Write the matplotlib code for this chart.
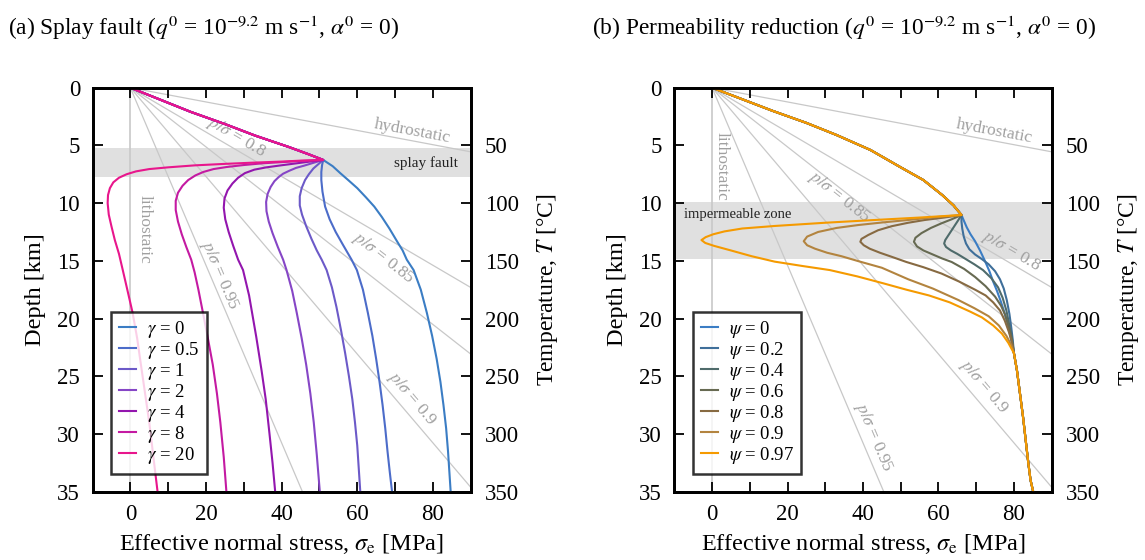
import numpy as np
import matplotlib
matplotlib.use("Agg")
import matplotlib.pyplot as plt

plt.rcParams['font.family'] = ['Liberation Serif', 'DejaVu Serif']
plt.rcParams['mathtext.fontset'] = 'stix'

## Background reference lines: sigma_e = slope * depth
sigma_grad = 26.0          # lithostatic normal stress gradient [MPa/km]
hydro_slope = 16.2         # effective stress gradient for hydrostatic pore pressure
ratio_vals = [0.8, 0.85, 0.9, 0.95]

## (a) splay fault - shared path above the fault, then one branch per gamma
gamma_labels = ['0', '0.5', '1', '2', '4', '8', '20']
gamma_colors = ['#3b7dc4', '#4c6cc9', '#6c5ac8', '#8646c6', '#9316ae', '#c41aa2', '#e8168c']
splay_top_s = [0, 8, 16, 25, 33, 42, 47, 51]
splay_top_z = [0, 1.05, 2.1, 3.15, 4.15, 5.15, 5.75, 6.26]
splay_s = [
    [51, 53.5, 55.5, 57.6, 60, 62.3, 64.5, 66.5, 68.5, 70.5, 72, 73.1, 74.9, 76.8, 78.4, 79.8, 81, 82, 82.8, 83.5, 84, 84.4, 84.7],
    [51, 50.7, 50.5, 50.5, 50.8, 51.5, 52.7, 54.3, 56.2, 58.5, 59.9, 61.5, 62.8, 64, 65, 65.9, 66.7, 67.4, 68, 68.6, 69.2],
    [51, 49.8, 48.4, 47.2, 46.2, 45.3, 44.8, 44.8, 45.4, 46.5, 47.9, 49.3, 50.6, 51.9, 53.3, 54.5, 55.7, 56.8, 57.8, 58.7, 59.4, 60, 60.4, 60.8],
    [51, 48.5, 46, 43.8, 42, 40.4, 39.2, 38.1, 37.1, 36.3, 35.9, 36, 36.6, 37.6, 39, 40.4, 41.3, 42.8, 44, 45.3, 46.5, 47.6, 48.5, 49.3, 50.1],
    [51, 47.5, 44, 40, 36, 32.8, 30.3, 28.5, 27, 25.7, 24.9, 24.7, 25.1, 26, 27.2, 28.5, 29.8, 31.4, 33.3, 34.7, 35.8, 36.8, 37.6, 38.3],
    [51, 45, 40, 35, 30, 25.5, 22, 19.3, 17.2, 15.3, 13.8, 12.6, 12.0, 12.0, 12.6, 13.6, 14.8, 16.1, 17, 18, 19.2, 20.5, 21.8, 22.9, 23.8, 24.7, 25.4],
    [51, 45, 40, 32, 25, 17, 10, 5, 1.5, -1, -3, -4.5, -5.4, -5.9, -6.0, -5.7, -5, -4.1, -3, -2, -0.8, 0.6, 1.8, 2.8, 3.9, 5, 6.1, 7.2],
]
splay_z = [
    [6.26, 6.8, 7.4, 8.0, 8.7, 9.5, 10.3, 11.2, 12.2, 13.3, 14.1, 14.9, 15.8, 17.5, 19.5, 21.5, 23.5, 25.5, 27.5, 29.5, 31.5, 33.5, 35],
    [6.26, 6.7, 7.3, 8.0, 9.0, 10.3, 11.4, 12.5, 13.6, 14.9, 15.8, 17.5, 19.5, 21.5, 23.5, 25.5, 27.5, 29.5, 31.5, 33.3, 35],
    [6.26, 6.6, 7.0, 7.5, 8.0, 8.7, 9.4, 10.2, 11.0, 12.0, 13.1, 14.1, 14.9, 15.8, 17.3, 19, 21, 23, 25, 27, 29, 31, 33, 35],
    [6.26, 6.5, 6.75, 6.95, 7.2, 7.45, 7.75, 8.1, 8.6, 9.2, 9.9, 10.7, 11.6, 12.6, 13.8, 14.9, 15.8, 17.6, 19.5, 21.7, 24, 26.5, 29, 31.8, 35],
    [6.26, 6.4, 6.55, 6.72, 6.9, 7.1, 7.4, 7.8, 8.3, 8.9, 9.6, 10.4, 11.4, 12.5, 13.7, 14.9, 15.8, 18, 21.6, 24.5, 27, 30, 32.5, 35],
    [6.26, 6.35, 6.45, 6.55, 6.7, 6.87, 7.05, 7.3, 7.6, 8.0, 8.5, 9.1, 9.8, 10.6, 11.6, 12.7, 13.8, 14.9, 16, 17.5, 19.5, 21.7, 24, 26.5, 29, 32, 35],
    [6.26, 6.32, 6.4, 6.5, 6.6, 6.73, 6.9, 7.05, 7.25, 7.5, 7.8, 8.2, 8.7, 9.3, 10.0, 11, 12, 13.2, 14.4, 15.8, 17.5, 19.5, 21.7, 24, 26.5, 29, 32, 35],
]

## (b) permeability reduction - shared path, branches, shared tail
psi_labels = ['0', '0.2', '0.4', '0.6', '0.8', '0.9', '0.97']
psi_colors = ['#3b7dc4', '#3f6f9a', '#4f6b6b', '#676a52', '#876a42', '#b3843f', '#f59a00']
perm_top_s = [0, 8, 16, 25, 33, 42, 50, 56, 61, 64, 66.1]
perm_top_z = [0, 1.0, 2.0, 3.05, 4.1, 5.4, 6.9, 8.0, 9.3, 10.2, 11.03]
perm_tail_s = [80, 80.8, 81.6, 82.4, 83.1, 83.8, 84.4, 85.1]
perm_tail_z = [23, 24.5, 26.5, 28.5, 30.5, 32.5, 34, 35]
perm_s = [
    [66.1, 66.7, 67.5, 68.5, 69.7, 71, 72.3, 73.5, 74.5, 75.5, 76.5, 77.4, 78.2, 78.9, 79.5, 80],
    [66.1, 66.1, 66.3, 66.7, 67.3, 68.2, 69.7, 71.5, 73.3, 75, 76.3, 77.3, 78.1, 78.8, 79.3, 79.7, 80],
    [66.1, 65.2, 64.0, 62.8, 61.8, 61.5, 62, 63.3, 65, 67, 69.5, 71.8, 74, 75.8, 77, 78, 78.8, 79.5, 80],
    [66.1, 63.5, 60.8, 58, 55.5, 53.9, 53.5, 54.3, 56, 58.5, 61, 63.5, 66.8, 69.7, 72.5, 75, 76.6, 77.7, 78.7, 79.4, 80],
    [66.1, 61.5, 56.4, 52, 47.6, 44, 41.4, 39.6, 39.3, 40.2, 41.8, 44.5, 47.6, 51.5, 56, 60.8, 65.5, 69.7, 72.5, 74.5, 76.3, 77.6, 78.7, 79.5, 80],
    [66.1, 59, 52, 45, 38.7, 33, 28.1, 25.2, 24.3, 25.2, 27.3, 30.5, 34.3, 39, 45, 52, 58.5, 65.3, 69.5, 73.3, 76, 78, 79.3, 80],
    [66.1, 55, 43.2, 30, 16.6, 8, 3.3, 0.3, -1.7, -2.8, -1.8, 0.5, 5, 10.5, 16.6, 24, 31.2, 38.5, 45.4, 51.5, 57.5, 63, 68.4, 71.5, 74.5, 76.8, 78.5, 80],
]
perm_z = [
    [11.03, 11.5, 12.1, 12.7, 13.3, 14.1, 15.0, 15.9, 16.8, 17.6, 18.5, 19.4, 20.3, 21.3, 22.2, 23],
    [11.03, 11.6, 12.2, 12.9, 13.5, 14.0, 14.45, 14.85, 15.3, 15.9, 16.6, 17.4, 18.4, 19.6, 20.8, 21.9, 23],
    [11.03, 11.5, 12.1, 12.7, 13.2, 13.5, 13.8, 14.1, 14.4, 14.8, 15.3, 15.8, 16.5, 17.3, 18.2, 19.3, 20.6, 21.8, 23],
    [11.03, 11.4, 11.75, 12.15, 12.6, 13.0, 13.35, 13.75, 14.1, 14.45, 14.8, 15.1, 15.7, 16.4, 17.2, 18.1, 18.9, 19.7, 20.8, 21.8, 23],
    [11.03, 11.25, 11.46, 11.7, 12.0, 12.35, 12.76, 13.1, 13.35, 13.65, 13.95, 14.3, 14.65, 15.1, 15.55, 16.1, 16.8, 17.5, 18.0, 18.6, 19.3, 20.2, 21.2, 22.1, 23],
    [11.03, 11.22, 11.46, 11.68, 11.9, 12.15, 12.5, 12.9, 13.3, 13.65, 13.95, 14.3, 14.6, 15.05, 15.6, 16.6, 17.4, 18.4, 19.1, 19.8, 20.6, 21.5, 22.3, 23],
    [11.03, 11.25, 11.46, 11.7, 11.98, 12.2, 12.45, 12.7, 12.95, 13.2, 13.45, 13.7, 14.1, 14.6, 15.07, 15.45, 15.8, 16.35, 16.95, 17.5, 18.0, 18.6, 19.4, 19.9, 20.6, 21.3, 22.1, 23],
]

fig = plt.figure(figsize=(11.45, 5.6), dpi=100)
axA = fig.add_axes([0.0808, 0.122, 0.3303, 0.7214])
axB = fig.add_axes([0.5889, 0.122, 0.3296, 0.7214])

grey = '#c8c8c8'
grey_txt = '#a0a0a0'


def line_angle(ax, slope):
    p0 = ax.transData.transform((0, 0))
    p1 = ax.transData.transform((slope * 10, 10))
    return np.degrees(np.arctan2(p1[1] - p0[1], p1[0] - p0[0]))


def setup_axes(ax):
    ax.set_xlim(-10, 90)
    ax.set_ylim(35, 0)
    ax.set_xticks([0, 20, 40, 60, 80])
    ax.set_xticks([10, 30, 50, 70], minor=True)
    ax.set_yticks(range(0, 36, 5))
    ax.tick_params(which='both', direction='in', top=True, bottom=True, left=True, right=False,
                   length=7, width=1.3, labelsize=16.5, pad=9)
    for sp in ax.spines.values():
        sp.set_linewidth(2)
    ax.set_xlabel(r'Effective normal stress, $\sigma_{\rm e}$ [MPa]', fontsize=17.5, labelpad=5)
    ax.set_ylabel('Depth [km]', fontsize=17.5, labelpad=8)
    tw = ax.twinx()
    tw.set_ylim(350, 0)
    tw.set_yticks(range(50, 351, 50))
    tw.tick_params(direction='in', length=7, width=1.3, labelsize=16.5, pad=10)
    for sp in tw.spines.values():
        sp.set_linewidth(2)
    tw.set_ylabel(r'Temperature, $T$ [°C]', fontsize=17, labelpad=12)

    # reference lines
    ax.plot([0, 0], [0, 35], color=grey, lw=1.2, zorder=1)
    ax.plot([0, hydro_slope * 35], [0, 35], color=grey, lw=0.9, zorder=1)
    for r in ratio_vals:
        k = (1 - r) * sigma_grad
        ax.plot([0, k * 35], [0, 35], color=grey, lw=0.9, zorder=1)


def ref_labels(ax, pos):
    for (txt, x, y, slope) in pos:
        if slope is None:
            ang = -90
        else:
            ang = line_angle(ax, slope)
        ax.text(x, y, txt, color=grey_txt, fontsize=12.5, rotation=ang,
                rotation_mode='anchor', ha='center', va='center', zorder=2)


for ax in (axA, axB):
    setup_axes(ax)

# (a)
axA.axhspan(5.25, 7.75, color='#e0e0e0', lw=0, zorder=0)
axA.text(86.5, 6.5, 'splay fault', fontsize=11, color='#222222', ha='right', va='center')
ref_labels(axA, [
    ('hydrostatic', 74.5, 3.75, hydro_slope),
    (r'$p/\sigma$ = 0.8', 28, 4.3, 0.2 * sigma_grad),
    (r'$p/\sigma$ = 0.85', 66.8, 14.75, 0.15 * sigma_grad),
    (r'$p/\sigma$ = 0.9', 74.3, 26.9, 0.1 * sigma_grad),
    (r'$p/\sigma$ = 0.95', 23.6, 16.2, 0.05 * sigma_grad),
    ('lithostatic', 3.7, 12.3, None),
])
for i in range(len(gamma_labels)):
    s = splay_top_s + splay_s[i][1:]
    z = splay_top_z + splay_z[i][1:]
    axA.plot(s, z, color=gamma_colors[i], lw=1.5, zorder=3, label=r'$\gamma$ = %s' % gamma_labels[i])

# (b)
axB.axhspan(9.9, 14.85, color='#e0e0e0', lw=0, zorder=0)
axB.text(-7.5, 11.0, 'impermeable zone', fontsize=10.5, color='#222222', ha='left', va='center')
ref_labels(axB, [
    ('hydrostatic', 74.7, 3.75, hydro_slope),
    (r'$p/\sigma$ = 0.8', 79.3, 14.15, 0.2 * sigma_grad),
    (r'$p/\sigma$ = 0.85', 33.6, 9.5, 0.15 * sigma_grad),
    (r'$p/\sigma$ = 0.9', 71.9, 25.85, 0.1 * sigma_grad),
    (r'$p/\sigma$ = 0.95', 42.9, 30.3, 0.05 * sigma_grad),
    ('lithostatic', 2.6, 6.8, None),
])
for i in range(len(psi_labels)):
    s = perm_top_s + perm_s[i][1:] + perm_tail_s[1:]
    z = perm_top_z + perm_z[i][1:] + perm_tail_z[1:]
    axB.plot(s, z, color=psi_colors[i], lw=1.5, zorder=3, label=r'$\psi$ = %s' % psi_labels[i])

for ax in (axA, axB):
    leg = ax.legend(loc='lower left', bbox_to_anchor=(0.05, 0.045), borderaxespad=0, fontsize=13.5,
                    frameon=True, fancybox=False, edgecolor='black', handlelength=0.9,
                    handletextpad=0.6, labelspacing=0.0, borderpad=0.4)
    leg.get_frame().set_linewidth(1.8)
    leg.set_zorder(10)

fig.text(0.007, 0.95, r'(a) Splay fault ($q^0$ = 10$^{-9.2}$ m s$^{-1}$, $\alpha^0$ = 0)', fontsize=16.8, va='center')
fig.text(0.517, 0.95, r'(b) Permeability reduction ($q^0$ = 10$^{-9.2}$ m s$^{-1}$, $\alpha^0$ = 0)', fontsize=16.8, va='center')

fig.savefig('out.png', dpi=100)
